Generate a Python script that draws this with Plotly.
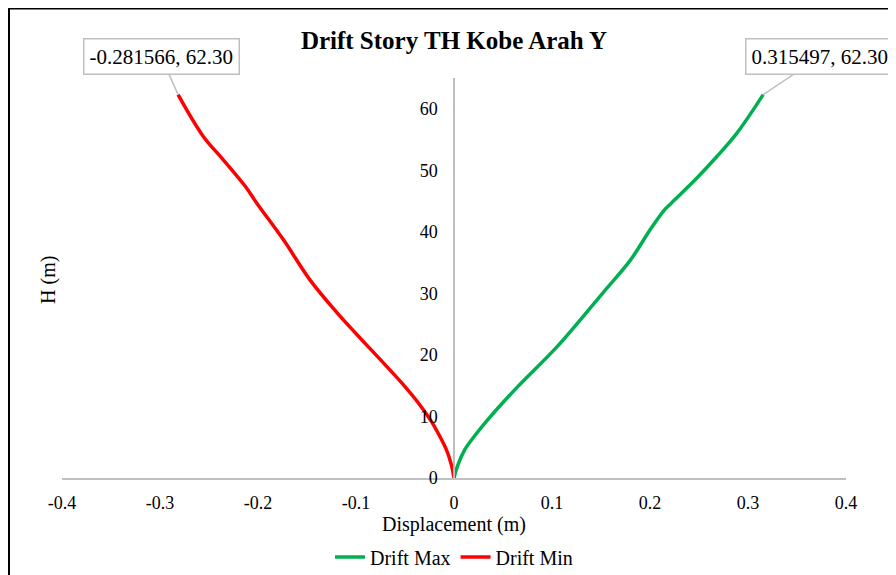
import plotly.graph_objects as go

# Data
max_disp = [0.0, 0.0041, 0.011, 0.0194, 0.033, 0.0636, 0.105, 0.152, 0.180, 0.200,
            0.215, 0.222, 0.2476, 0.268, 0.2885, 0.315497]
max_h = [0.0, 2.16, 4.6, 6.5, 9.2, 14.6, 21.3, 30.1, 35.4, 40.3,
         43.6, 44.7, 48.7, 52.2, 56.0, 62.30]
min_disp = [0.0, -0.0027, -0.0078, -0.0146, -0.0231, -0.035, -0.052, -0.119, -0.147,
            -0.174, -0.2014, -0.213, -0.2354, -0.2558, -0.281566]
min_h = [0.0, 2.16, 4.6, 6.8, 9.2, 11.9, 15.2, 26.8, 32.2,
         38.7, 44.7, 47.4, 51.7, 55.5, 62.30]

x_ticks = [-0.4, -0.3, -0.2, -0.1, 0.0, 0.1, 0.2, 0.3, 0.4]
x_labels = ["-0.4", "-0.3", "-0.2", "-0.1", "0", "0.1", "0.2", "0.3", "0.4"]
y_ticks = [0, 10, 20, 30, 40, 50, 60]

FONT = "Liberation Serif"
GRAY = "#bfbfbf"
L, R, T, B = 54, 58, 70, 105
PW, PH = 896 - L - R, 575 - T - B

fig = go.Figure()
fig.add_trace(go.Scatter(x=max_disp, y=max_h, mode="lines", name="Drift Max",
                         line=dict(color="#00b050", width=3.5, shape="spline", smoothing=1.0)))
fig.add_trace(go.Scatter(x=min_disp, y=min_h, mode="lines", name="Drift Min",
                         line=dict(color="#ff0000", width=3.5, shape="spline", smoothing=1.0)))

ann_common = dict(showarrow=True, arrowhead=0, arrowcolor=GRAY, arrowwidth=1.5,
                  bordercolor=GRAY, borderwidth=1.5, borderpad=5, bgcolor="white",
                  font=dict(family=FONT, size=21, color="#000000"))
fig.add_annotation(x=min_disp[-1], y=min_h[-1], xref="x", yref="y",
                   text=f"{min_disp[-1]:.6f}, {min_h[-1]:.2f}", ax=-17, ay=-38, **ann_common)
fig.add_annotation(x=max_disp[-1], y=max_h[-1], xref="x", yref="y",
                   text=f"{max_disp[-1]:.6f}, {max_h[-1]:.2f}", ax=57, ay=-38, **ann_common)

fig.add_annotation(text="H (m)", xref="paper", yref="paper", x=-0.018, y=0.495,
                   textangle=-90, showarrow=False, xanchor="center", yanchor="middle",
                   font=dict(family=FONT, size=20, color="#000000"))

# outer chart frame (left/top visible)
fig.add_shape(type="rect", xref="paper", yref="paper",
              x0=(1 - L) / PW, y0=-0.6, x1=1.3, y1=1 + (T - 0.5) / PH,
              line=dict(color="black", width=2), layer="below")

fig.update_layout(
    width=896, height=575,
    margin=dict(l=L, r=R, t=T, b=B, autoexpand=False),
    paper_bgcolor="white", plot_bgcolor="white",
    font=dict(family=FONT, color="#000000"),
    title=dict(text="<b>Drift Story TH Kobe Arah Y</b>", x=0.5, xref="paper", xanchor="center",
               y=1 - 32 / 575, yref="container", yanchor="middle",
               font=dict(family=FONT, size=25, color="#000000")),
    showlegend=True,
    legend=dict(orientation="h", x=0.5, xanchor="center", y=-0.1975, yanchor="middle",
                font=dict(family=FONT, size=20, color="#000000"), bgcolor="rgba(0,0,0,0)"),
    xaxis=dict(range=[-0.4, 0.4], tickvals=x_ticks, ticktext=x_labels, showgrid=False,
               zeroline=False, showline=True, linecolor=GRAY, linewidth=1.5, ticks="",
               ticklabelstandoff=8, tickfont=dict(family=FONT, size=18, color="#000000"),
               title=dict(text="Displacement (m)", standoff=4,
                          font=dict(family=FONT, size=20, color="#000000"))),
    yaxis=dict(range=[0, 65], tickvals=y_ticks, showgrid=False, zeroline=False,
               anchor="free", position=0.5, showline=True, linecolor=GRAY, linewidth=1.5,
               ticks="", ticklabelstandoff=12,
               tickfont=dict(family=FONT, size=18, color="#000000")),
)

fig.write_html("out.html")
